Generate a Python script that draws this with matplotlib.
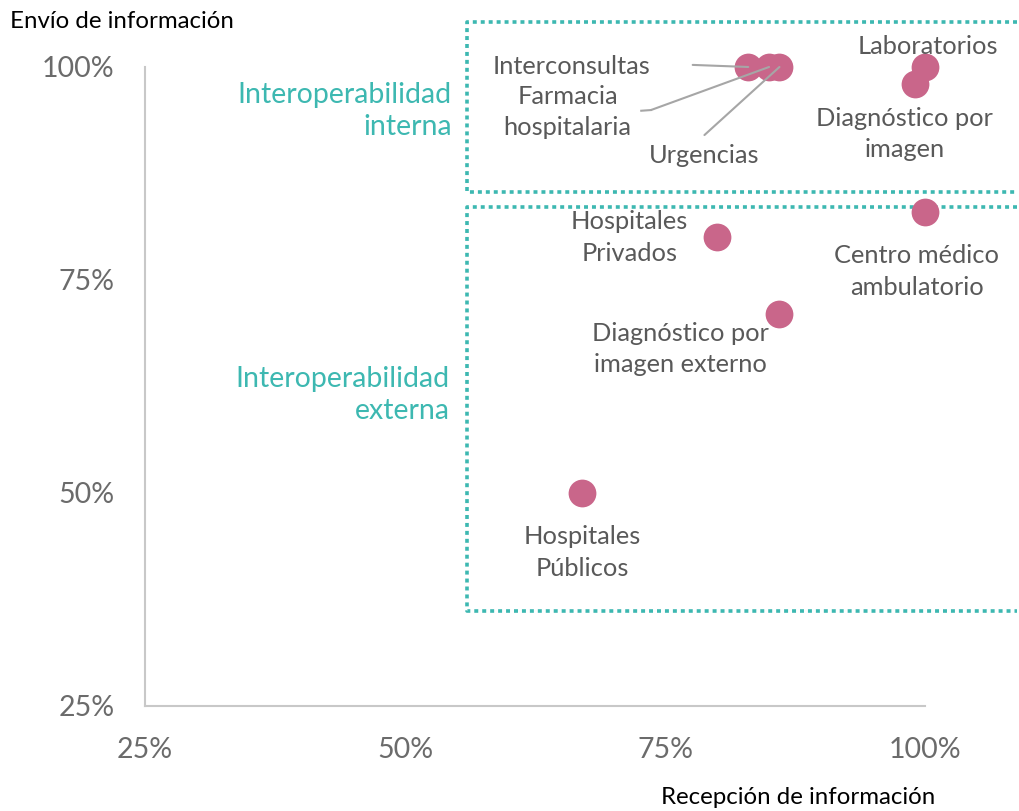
import matplotlib
matplotlib.use("Agg")
import matplotlib.pyplot as plt
from matplotlib.ticker import FixedLocator, FuncFormatter
from matplotlib.transforms import offset_copy


PINK = "#C9668A"
TEAL = "#3DB8B1"
LABEL = "#595959"
TICK = "#6B6B6B"
LEADER = "#A6A6A6"
SPINE = "#C8C8C8"

plt.rcParams["font.family"] = ["Lato", "DejaVu Sans"]

# data: (recepción, envío) in %
names = [
    "Interconsultas",
    "Farmacia\nhospitalaria",
    "Urgencias",
    "Laboratorios",
    "Diagnóstico por\nimagen",
    "Hospitales\nPrivados",
    "Centro médico\nambulatorio",
    "Diagnóstico por\nimagen externo",
    "Hospitales\nPúblicos",
]
recepcion = [83, 85, 86, 100, 99, 80, 100, 86, 67]
envio = [100, 100, 100, 100, 98, 80, 83, 71, 50]
ticks = [25, 50, 75, 100]

# label offsets in points from each point (dx, dy)
label_offsets = [
    (-127, 0),
    (-145, -32.5),
    (-54, -64),
    (2, 15),
    (-7, -36),
    (-63, 0),
    (-6, -43),
    (-71, -25),
    (0, -43),
]
# leader lines for the crowded cluster (offsets in points)
leaders = {
    0: [(-40, 1.5)],
    1: [(-85, -31), (-92, -31.5)],
    2: [(-54, -49)],
}


def main():
    fig = plt.figure(figsize=(10.19, 8.11), dpi=100)
    fig.patch.set_facecolor("white")
    ax = fig.add_axes([0.1423, 0.1295, 0.7655, 0.7879])

    ax.set_xlim(25, 100)
    ax.set_ylim(25, 100)

    for side in ("top", "right"):
        ax.spines[side].set_visible(False)
    for side in ("left", "bottom"):
        ax.spines[side].set_color(SPINE)
        ax.spines[side].set_linewidth(1.5)

    pct = FuncFormatter(lambda v, _: f"{v:.0f}%")
    ax.xaxis.set_major_locator(FixedLocator(ticks))
    ax.yaxis.set_major_locator(FixedLocator(ticks))
    ax.xaxis.set_major_formatter(pct)
    ax.yaxis.set_major_formatter(pct)
    ax.tick_params(axis="both", length=0, labelsize=20.5, labelcolor=TICK)
    ax.tick_params(axis="x", pad=22)
    ax.tick_params(axis="y", pad=22)

    ax.scatter(recepcion, envio, s=400, color=PINK, linewidths=0,
               zorder=3, clip_on=False)

    for i, (name, x, y) in enumerate(zip(names, recepcion, envio)):
        dx, dy = label_offsets[i]
        ax.annotate(name, xy=(x, y), xytext=(dx, dy), textcoords="offset points",
                    ha="center", va="center", fontsize=18.3, color=LABEL,
                    linespacing=1.45, annotation_clip=False, zorder=5)
        pts = leaders.get(i)
        if not pts:
            continue
        ax.annotate("", xy=(x, y), xytext=pts[0], textcoords="offset points",
                    arrowprops=dict(arrowstyle="-", color=LEADER, lw=1.5,
                                    shrinkA=0, shrinkB=0),
                    annotation_clip=False, zorder=4)
        if len(pts) > 1:
            # short horizontal tail
            t0 = offset_copy(ax.transData, fig=fig, x=pts[0][0], y=pts[0][1], units="points")
            t1 = offset_copy(ax.transData, fig=fig, x=pts[1][0], y=pts[1][1], units="points")
            p0 = t0.transform((x, y))
            p1 = t1.transform((x, y))
            fig.add_artist(plt.Line2D([p0[0], p1[0]], [p0[1], p1[1]],
                                      transform=None, color=LEADER, lw=1.5))

    # dotted regions
    dot = dict(color=TEAL, lw=2.6, linestyle=(0, (1.1, 1.1)),
               dash_capstyle="butt", clip_on=False, zorder=2)
    x0, x1 = 56.0, 108.8
    ax.plot([x1, x0, x0, x1], [105.3, 105.3, 85.3, 85.3], **dot)
    ax.plot([x1, x0, x0, x1], [83.6, 83.6, 36.2, 36.2], **dot)

    ax.text(54.5, 94.8, "Interoperabilidad\ninterna", ha="right", va="center",
            fontsize=20.5, color=TEAL, linespacing=1.27)
    ax.text(54.3, 61.5, "Interoperabilidad\nexterna", ha="right", va="center",
            fontsize=20.5, color=TEAL, linespacing=1.27)

    fig.text(10 / 1019, 1 - 21 / 811, "Envío de información", ha="left",
             va="center", fontsize=17.3, color="black")
    fig.text(935 / 1019, 1 - 797 / 811, "Recepción de información", ha="right",
             va="center", fontsize=17.3, color="black")

    fig.savefig("out.png", dpi=100)
    plt.close(fig)


if __name__ == "__main__":
    main()
